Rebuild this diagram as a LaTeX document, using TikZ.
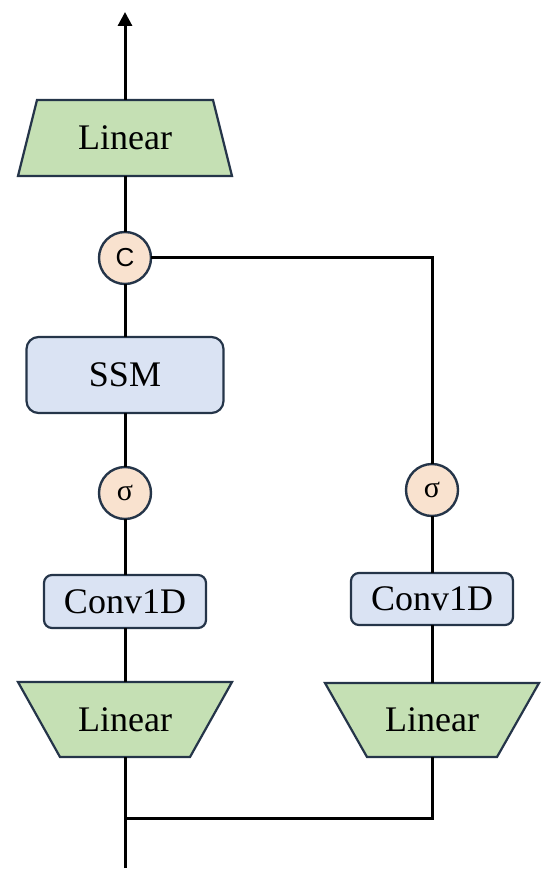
\documentclass[tikz,border=0pt]{standalone}
\usepackage{fontspec}
\setmainfont{Liberation Serif}
\newfontfamily\opfont{Liberation Sans}
\usepackage{xcolor}
\usepackage{tikz}
\usetikzlibrary{arrows.meta,positioning,backgrounds}

\definecolor{linfill}{HTML}{C5E0B4}
\definecolor{boxfill}{HTML}{DAE3F3}
\definecolor{opfill}{HTML}{F9E2CF}
\definecolor{edge}{HTML}{253549}

\begin{document}
\begin{tikzpicture}[
  x=0.5pt, y=-0.5pt,
  linear/.style={inner sep=0pt, outer sep=0pt, minimum width=107pt,
                 minimum height=38pt, font=\fontsize{18}{20}\selectfont},
  linshape/.style={draw=edge, line width=1.1pt, fill=linfill, line join=miter},
  block/.style={draw=edge, line width=1.1pt, fill=boxfill, rounded corners=6pt,
                outer sep=0pt, font=\fontsize{18}{20}\selectfont},
  gate/.style={circle, draw=edge, line width=1.2pt, fill=opfill, minimum size=26pt,
               inner sep=0pt, outer sep=0pt},
  wire/.style={line width=1.5pt},
  arrow/.style={-{Triangle[length=7pt, width=7pt]}, line width=1.5pt}
]
  \useasboundingbox (0,0) rectangle (550,881);

  % main branch
  \node[linear] (linout) at (125,138) {\raisebox{-2pt}{Linear}};
  \node[gate, font=\opfont\fontsize{13}{14}\selectfont] (cat) at (125,258) {C};
  \node[block, minimum width=98.5pt, minimum height=38pt] (ssm) at (125,375) {SSM};
  \node[gate, font=\fontsize{15}{15}\selectfont] (sigl) at (125,493) {σ};
  \node[block, rounded corners=4pt, minimum width=81pt, minimum height=26.5pt] (convl) at (125,601.5) {Conv1D};
  \node[linear, minimum height=37.5pt] (linl) at (125,719.5) {Linear};

  % gate branch
  \node[gate, font=\fontsize{15}{15}\selectfont] (sigr) at (432,490) {σ};
  \node[block, rounded corners=4pt, minimum width=81pt, minimum height=26pt] (convr) at (432,599) {Conv1D};
  \node[linear, minimum height=37pt] (linr) at (432,720) {Linear};

  % trapezoid outlines behind the labels
  \begin{scope}[on background layer]
    \draw[linshape] ([xshift=9.5pt]linout.north west) -- ([xshift=-9.5pt]linout.north east)
      -- (linout.south east) -- (linout.south west) -- cycle;
    \foreach \t in {linl, linr}
      \draw[linshape] (\t.north west) -- (\t.north east)
        -- ([xshift=-21pt]\t.south east) -- ([xshift=21pt]\t.south west) -- cycle;
  \end{scope}

  \coordinate (out) at (125,12);
  \coordinate (inp) at (125,868);
  \coordinate (split) at (125,818);

  \draw[arrow] (linout) -- (out);
  \draw[wire] (cat) -- (linout);
  \draw[wire] (ssm) -- (cat);
  \draw[wire] (sigl) -- (ssm);
  \draw[wire] (convl) -- (sigl);
  \draw[wire] (linl) -- (convl);
  \draw[wire] (inp) -- (linl);

  \draw[wire] (split) -| (linr);
  \draw[wire] (linr) -- (convr);
  \draw[wire] (convr) -- (sigr);
  \draw[wire] (sigr) |- (cat);
\end{tikzpicture}
\end{document}
